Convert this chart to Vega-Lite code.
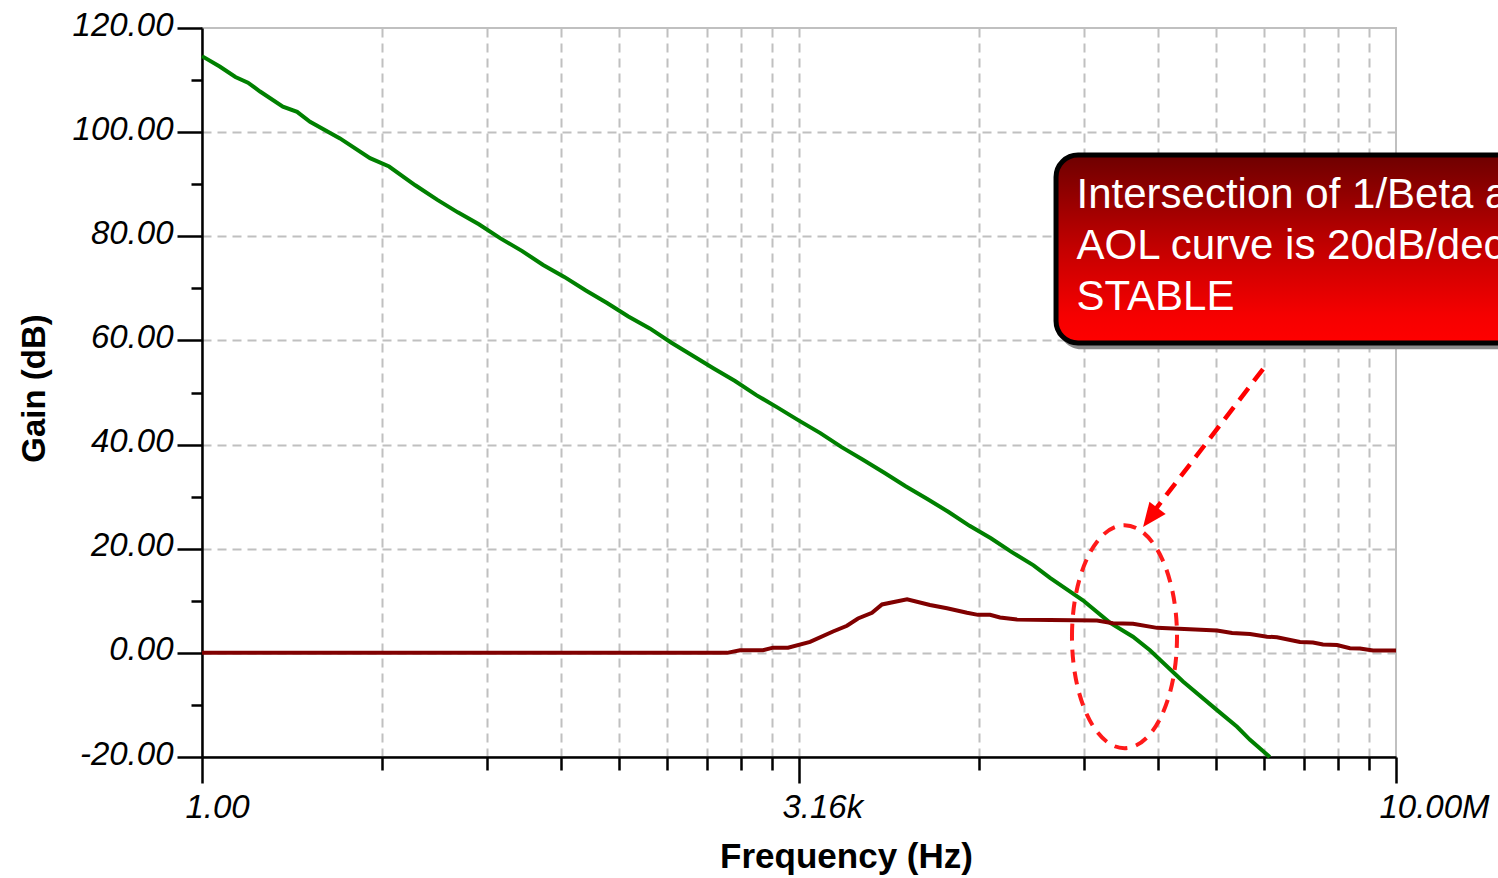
{
  "$schema": "https://vega.github.io/schema/vega-lite/v6.json",
  "width": 1194,
  "height": 729,
  "autosize": {"type": "none"},
  "padding": {"left": 202, "top": 28, "right": 102, "bottom": 121},
  "background": "white",
  "config": {"view": {"stroke": "#c0c0c0", "strokeWidth": 2}},
  "datasets": {
    "curves": [
      {"series": "AOL", "f": 1, "db": 114.6},
      {"series": "AOL", "f": 1.27, "db": 112.6},
      {"series": "AOL", "f": 1.57, "db": 110.6},
      {"series": "AOL", "f": 1.86, "db": 109.5},
      {"series": "AOL", "f": 2.19, "db": 107.8},
      {"series": "AOL", "f": 2.98, "db": 104.9},
      {"series": "AOL", "f": 3.61, "db": 103.9},
      {"series": "AOL", "f": 4.3, "db": 102.0},
      {"series": "AOL", "f": 6.44, "db": 98.8},
      {"series": "AOL", "f": 9.66, "db": 95.0},
      {"series": "AOL", "f": 12.5, "db": 93.4},
      {"series": "AOL", "f": 17.8, "db": 89.8},
      {"series": "AOL", "f": 24, "db": 87.0},
      {"series": "AOL", "f": 31.6, "db": 84.6},
      {"series": "AOL", "f": 42, "db": 82.3},
      {"series": "AOL", "f": 56.2, "db": 79.6},
      {"series": "AOL", "f": 75, "db": 77.2},
      {"series": "AOL", "f": 100, "db": 74.5},
      {"series": "AOL", "f": 133, "db": 72.2},
      {"series": "AOL", "f": 178, "db": 69.6},
      {"series": "AOL", "f": 237, "db": 67.2},
      {"series": "AOL", "f": 316, "db": 64.6},
      {"series": "AOL", "f": 422, "db": 62.3},
      {"series": "AOL", "f": 562, "db": 59.6},
      {"series": "AOL", "f": 750, "db": 57.1},
      {"series": "AOL", "f": 1000, "db": 54.6},
      {"series": "AOL", "f": 1334, "db": 52.2},
      {"series": "AOL", "f": 1778, "db": 49.5},
      {"series": "AOL", "f": 2371, "db": 47.1},
      {"series": "AOL", "f": 3162, "db": 44.6},
      {"series": "AOL", "f": 4217, "db": 42.2},
      {"series": "AOL", "f": 5623, "db": 39.5},
      {"series": "AOL", "f": 7499, "db": 37.1},
      {"series": "AOL", "f": 10000, "db": 34.6},
      {"series": "AOL", "f": 13335, "db": 32.0},
      {"series": "AOL", "f": 17783, "db": 29.6},
      {"series": "AOL", "f": 23714, "db": 27.1},
      {"series": "AOL", "f": 31623, "db": 24.4},
      {"series": "AOL", "f": 42170, "db": 22.0},
      {"series": "AOL", "f": 56234, "db": 19.3},
      {"series": "AOL", "f": 74989, "db": 16.8},
      {"series": "AOL", "f": 93680, "db": 14.4},
      {"series": "AOL", "f": 146000, "db": 10.1},
      {"series": "AOL", "f": 210000, "db": 5.8},
      {"series": "AOL", "f": 287000, "db": 3.1},
      {"series": "AOL", "f": 361000, "db": 0.5},
      {"series": "AOL", "f": 564000, "db": -5.5},
      {"series": "AOL", "f": 893000, "db": -11.0},
      {"series": "AOL", "f": 1170000, "db": -14.2},
      {"series": "AOL", "f": 1394000, "db": -16.7},
      {"series": "AOL", "f": 1820000, "db": -20.0},
      {"series": "1/Beta", "f": 1, "db": 0},
      {"series": "1/Beta", "f": 1197, "db": 0},
      {"series": "1/Beta", "f": 1426, "db": 0.5},
      {"series": "1/Beta", "f": 1945, "db": 0.5},
      {"series": "1/Beta", "f": 2227, "db": 1.0},
      {"series": "1/Beta", "f": 2728, "db": 1.0},
      {"series": "1/Beta", "f": 3672, "db": 2.1},
      {"series": "1/Beta", "f": 5005, "db": 4.1},
      {"series": "1/Beta", "f": 6043, "db": 5.2},
      {"series": "1/Beta", "f": 7012, "db": 6.6},
      {"series": "1/Beta", "f": 8473, "db": 7.7},
      {"series": "1/Beta", "f": 9700, "db": 9.3},
      {"series": "1/Beta", "f": 13600, "db": 10.3},
      {"series": "1/Beta", "f": 18530, "db": 9.2},
      {"series": "1/Beta", "f": 23320, "db": 8.55},
      {"series": "1/Beta", "f": 30550, "db": 7.7},
      {"series": "1/Beta", "f": 35420, "db": 7.3},
      {"series": "1/Beta", "f": 41690, "db": 7.3},
      {"series": "1/Beta", "f": 47690, "db": 6.8},
      {"series": "1/Beta", "f": 60000, "db": 6.4},
      {"series": "1/Beta", "f": 93680, "db": 6.3},
      {"series": "1/Beta", "f": 176700, "db": 6.2},
      {"series": "1/Beta", "f": 219300, "db": 5.7},
      {"series": "1/Beta", "f": 287300, "db": 5.6},
      {"series": "1/Beta", "f": 397000, "db": 4.8},
      {"series": "1/Beta", "f": 893000, "db": 4.3},
      {"series": "1/Beta", "f": 1094000, "db": 3.8},
      {"series": "1/Beta", "f": 1394000, "db": 3.6},
      {"series": "1/Beta", "f": 1753000, "db": 3.1},
      {"series": "1/Beta", "f": 2006000, "db": 3.0},
      {"series": "1/Beta", "f": 2735000, "db": 2.1},
      {"series": "1/Beta", "f": 3260000, "db": 2.0},
      {"series": "1/Beta", "f": 3730000, "db": 1.6},
      {"series": "1/Beta", "f": 4510000, "db": 1.5},
      {"series": "1/Beta", "f": 5370000, "db": 0.9},
      {"series": "1/Beta", "f": 6150000, "db": 0.85},
      {"series": "1/Beta", "f": 7330000, "db": 0.45},
      {"series": "1/Beta", "f": 10000000, "db": 0.45}
    ]
  },
  "layer": [
    {
      "data": {"name": "curves"},
      "mark": {"type": "line", "strokeWidth": 4},
      "encoding": {
        "x": {
          "field": "f",
          "type": "quantitative",
          "scale": {"type": "log", "domain": [1, 10000000], "nice": false},
          "axis": {
            "title": "Frequency (Hz)",
            "titleFont": "Liberation Sans",
            "titleFontSize": 35,
            "titleFontWeight": "bold",
            "titleColor": "black",
            "titleX": 644,
            "titleY": 110,
            "titleAlign": "center",
            "titleBaseline": "alphabetic",
            "values": [1, 11.3137, 46.765, 128, 279.508, 529.09, 907.49, 1448.15, 2187, 3162.28, 35777, 147884, 404772, 883883, 1673131, 2869735, 4579463, 6915902, 10000000],
            "labelExpr": "datum.value < 1.5 ? '1.00' : (datum.value > 3000 && datum.value < 3300) ? '3.16k' : datum.value > 9000000 ? '10.00M' : ''",
            "labelFont": "Liberation Sans",
            "labelFontSize": 33,
            "labelFontStyle": "italic",
            "labelColor": "black",
            "labelAlign": "left",
            "labelBaseline": "alphabetic",
            "labelOffset": -17,
            "labelPadding": 34,
            "labelFlush": false,
            "labelOverlap": false,
            "labelBound": false,
            "tickSize": {"condition": {"test": "datum.value < 1.5 || (datum.value > 3000 && datum.value < 3300) || datum.value > 9000000", "value": 26}, "value": 13},
            "tickColor": "black",
            "tickWidth": 2.5,
            "domainColor": "black",
            "domainWidth": 2.5,
            "grid": true,
            "gridColor": "#c0c0c0",
            "gridWidth": 2,
            "gridDash": [9, 6],
            "gridOpacity": {"condition": {"test": "datum.value > 1.5 && datum.value < 9000000", "value": 1}, "value": 0}
          }
        },
        "y": {
          "field": "db",
          "type": "quantitative",
          "scale": {"domain": [-20, 120], "nice": false, "zero": false},
          "axis": {
            "title": "Gain (dB)",
            "titleFont": "Liberation Sans",
            "titleFontSize": 33,
            "titleFontWeight": "bold",
            "titleColor": "black",
            "titleAngle": -90,
            "titleX": -158,
            "titleY": 360,
            "titleAlign": "center",
            "titleBaseline": "alphabetic",
            "values": [-20, -15, -10, -5, 0, 5, 10, 15, 20, 25, 30, 35, 40, 45, 50, 55, 60, 65, 70, 75, 80, 85, 90, 95, 100, 105, 110, 115, 120],
            "labelExpr": "datum.value % 20 === 0 ? (datum.value < 0 ? '-' + format(-datum.value, '.2f') : format(datum.value, '.2f')) : ''",
            "labelFont": "Liberation Sans",
            "labelFontSize": 33,
            "labelFontStyle": "italic",
            "labelColor": "black",
            "labelAlign": "right",
            "labelBaseline": "alphabetic",
            "labelOffset": 7,
            "labelPadding": 4,
            "labelOverlap": false,
            "labelBound": false,
            "labelFlush": false,
            "tickSize": {"condition": {"test": "datum.value % 20 === 0", "value": 25}, "value": 11},
            "tickColor": "black",
            "tickWidth": 2.5,
            "domainColor": "black",
            "domainWidth": 2.5,
            "grid": true,
            "gridColor": "#c0c0c0",
            "gridWidth": 2,
            "gridDash": [9, 6],
            "gridOpacity": {"condition": {"test": "datum.value % 20 === 0 && datum.value > -20 && datum.value < 120", "value": 1}, "value": 0}
          }
        },
        "color": {
          "field": "series",
          "type": "nominal",
          "scale": {"domain": ["AOL", "1/Beta"], "range": ["#008000", "#800000"]},
          "legend": null
        }
      }
    },
    {
      "data": {"values": [{}]},
      "mark": {"type": "rect", "cornerRadius": 22, "fill": "#8a8a8a"},
      "encoding": {
        "x": {"datum": 105800, "type": "quantitative"},
        "x2": {"datum": 100000000},
        "y": {"datum": 94.6, "type": "quantitative"},
        "y2": {"datum": 58.3}
      }
    },
    {
      "data": {"values": [{}]},
      "mark": {
        "type": "rect",
        "cornerRadius": 22,
        "stroke": "black",
        "strokeWidth": 5,
        "fill": {
          "gradient": "linear",
          "x1": 0, "y1": 0, "x2": 0, "y2": 1,
          "stops": [
            {"offset": 0, "color": "#6e0000"},
            {"offset": 0.5, "color": "#c40000"},
            {"offset": 0.85, "color": "#f50000"},
            {"offset": 1, "color": "#ff0000"}
          ]
        }
      },
      "encoding": {
        "x": {"datum": 101600, "type": "quantitative"},
        "x2": {"datum": 100000000},
        "y": {"datum": 95.6, "type": "quantitative"},
        "y2": {"datum": 59.5}
      }
    },
    {
      "data": {"values": [{}]},
      "mark": {
        "type": "text",
        "text": ["Intersection of 1/Beta and", "AOL curve is 20dB/decade", "STABLE"],
        "align": "left",
        "baseline": "alphabetic",
        "font": "Liberation Sans",
        "fontSize": 42,
        "lineHeight": 51,
        "color": "white"
      },
      "encoding": {
        "x": {"datum": 134000, "type": "quantitative"},
        "y": {"datum": 85.4, "type": "quantitative"}
      }
    },
    {
      "data": {"values": [{}]},
      "mark": {"type": "rule", "color": "#ff0000", "strokeWidth": 4.5, "strokeDash": [15, 9]},
      "encoding": {
        "x": {"datum": 1661000, "type": "quantitative"},
        "y": {"datum": 54.5, "type": "quantitative"},
        "x2": {"datum": 371200},
        "y2": {"datum": 26.7}
      }
    },
    {
      "data": {"values": [{}]},
      "mark": {
        "type": "point",
        "shape": "M 0,-1 L 0.85,1 L -0.85,1 Z",
        "size": 576,
        "angle": 217.2,
        "filled": true,
        "color": "#ff0000",
        "opacity": 1
      },
      "encoding": {
        "x": {"datum": 362700, "type": "quantitative"},
        "y": {"datum": 26.0, "type": "quantitative"}
      }
    },
    {
      "data": {"values": [{}]},
      "mark": {
        "type": "point",
        "shape": "M -0.471,0 A 0.471,1 0 1,1 0.471,0 A 0.471,1 0 1,1 -0.471,0 Z",
        "size": 49729,
        "filled": false,
        "color": "#ff1a1a",
        "strokeWidth": 4,
        "strokeDash": [13, 9],
        "opacity": 1
      },
      "encoding": {
        "x": {"datum": 256000, "type": "quantitative"},
        "y": {"datum": 3.1, "type": "quantitative"}
      }
    }
  ]
}
